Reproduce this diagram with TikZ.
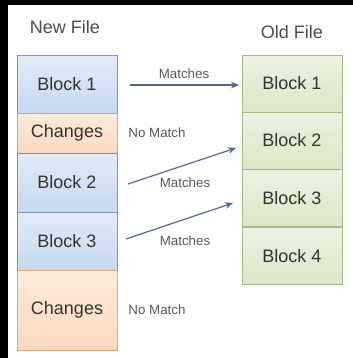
\documentclass[tikz,border=0pt]{standalone}
\usepackage{fontspec}
\setmainfont{Liberation Sans}
\usetikzlibrary{arrows.meta}
\definecolor{newline}{HTML}{7F96B8}
\definecolor{newtop}{HTML}{E2ECF8}
\definecolor{newbot}{HTML}{C6D8EE}
\definecolor{chgline}{HTML}{E2A66E}
\definecolor{chgtop}{HTML}{FDEBDC}
\definecolor{chgbot}{HTML}{FAD9BE}
\definecolor{oldline}{HTML}{A6BA84}
\definecolor{oldtop}{HTML}{EDF2E2}
\definecolor{oldbot}{HTML}{DCE6C6}
\definecolor{arrowc}{HTML}{53688F}
\tikzset{
  newblock/.style={draw=newline, top color=newtop, bottom color=newbot, minimum width=100*0.75pt, inner sep=0pt, font=\fontsize{13.5}{16}\selectfont, text=black!80},
  chgblock/.style={newblock, draw=chgline, top color=chgtop, bottom color=chgbot},
  oldblock/.style={newblock, draw=oldline, top color=oldtop, bottom color=oldbot, minimum height=57*0.75pt},
  title/.style={font=\fontsize{13.5}{16}\selectfont, text=black!70, inner sep=0pt},
  tag/.style={font=\fontsize{10}{12}\selectfont, text=black!65, inner sep=0pt},
  match/.style={draw=arrowc, line width=0.9pt, -{Stealth[length=6pt,width=5pt]}}
}
\begin{document}
\begin{tikzpicture}[x=0.75pt, y=-0.75pt]
  %%%%% FRAME %%%%%
  \useasboundingbox (0,0) rectangle (353,358);
  \fill[white] (0,0) rectangle (353,358);
  \fill[black] (0,0) rectangle (8,358);
  \fill[black] (0,0) rectangle (353,5);

  %%%%% NEW FILE %%%%%
  \node[title] (newtitle) at (65,27) {New File};
  \node[newblock, minimum height=58*0.75pt] (nb1) at (67,84) {Block 1};
  \node[chgblock, minimum height=40*0.75pt] (nc1) at (67,133) {Changes};
  \node[newblock, minimum height=59*0.75pt] (nb2) at (67,182.5) {Block 2};
  \node[newblock, minimum height=58*0.75pt] (nb3) at (67,241) {Block 3};
  \node[chgblock, minimum height=80*0.75pt] (nc2) at (67,310) {Changes};

  %%%%% OLD FILE %%%%%
  \node[title] (oldtitle) at (292,32) {Old File};
  \node[oldblock] (ob1) at (292,83.5) {Block 1};
  \node[oldblock] (ob2) at (292,140.5) {Block 2};
  \node[oldblock] (ob3) at (292,198) {Block 3};
  \node[oldblock] (ob4) at (292,256) {Block 4};

  %%%%% MATCHES %%%%%
  \coordinate (m1s) at (130,85);
  \coordinate (m1e) at (239,85);
  \coordinate (m2s) at (128,184);
  \coordinate (m2e) at (236,148);
  \coordinate (m3s) at (126,239);
  \coordinate (m3e) at (233,203);
  \draw[match] (m1s) -- (m1e);
  \draw[match] (m2s) -- (m2e);
  \draw[match] (m3s) -- (m3e);

  \node[tag] (t1) at (184,74) {Matches};
  \node[tag] (t2) at (185,183) {Matches};
  \node[tag] (t3) at (185,241) {Matches};
  \node[tag] (n1) at (157,133) {No Match};
  \node[tag] (n2) at (157,310) {No Match};
\end{tikzpicture}
\end{document}
